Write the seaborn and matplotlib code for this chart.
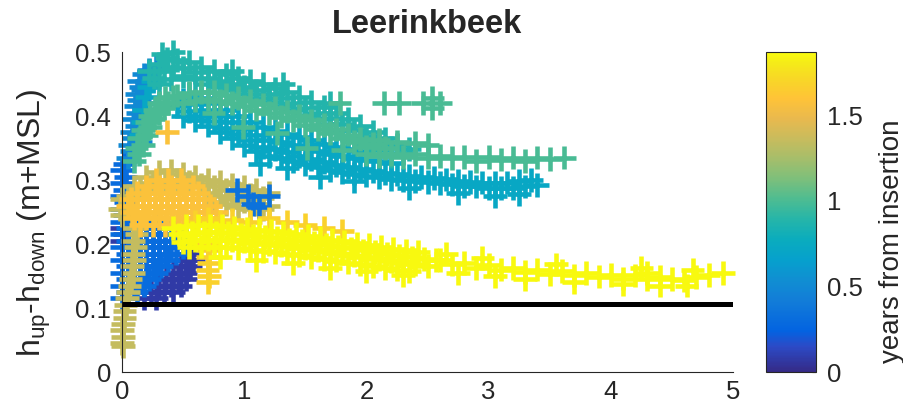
import numpy as np
import pandas as pd
import matplotlib
matplotlib.use("Agg")
import matplotlib.pyplot as plt
import seaborn as sns
from matplotlib.colors import LinearSegmentedColormap, Normalize
from matplotlib.cm import ScalarMappable

# =============================
# DATA
# =============================
# each group: x, y = h_up - h_down (m+MSL), one time value (years from insertion)
indigo_t = 0.08
indigo_x = [0.18, 0.28, 0.24, 0.34, 0.42, 0.30, 0.40, 0.48, 0.36, 0.46, 0.52,
            0.42, 0.52, 0.48, 0.56, 0.52, 0.58, 0.56, 0.00, 0.02, 0.00]
indigo_y = [0.115, 0.115, 0.125, 0.125, 0.125, 0.135, 0.135, 0.135, 0.145, 0.145, 0.145,
            0.155, 0.155, 0.165, 0.165, 0.175, 0.175, 0.185, 0.205, 0.215, 0.225]

blue_t = 0.30
blue_x = [0.00, 0.10, 0.20, 0.30,
          0.05, 0.15, 0.25, 0.35, 0.42,
          0.00, 0.10, 0.20, 0.30, 0.40, 0.48,
          0.05, 0.15, 0.25, 0.35, 0.45, 0.52,
          0.00, 0.10, 0.20, 0.30, 0.40, 0.50,
          0.05, 0.15, 0.25, 0.35, 0.44,
          0.00, 0.10, 0.20, 0.30, 0.38,
          0.05, 0.15, 0.25, 0.32,
          0.00, 0.10, 0.20, 0.28,
          0.05, 0.15, 0.22,
          0.00, 0.10, 0.18,
          0.05, 0.12,
          0.00,
          0.02, 0.00, 0.03, 0.00, 0.02, 0.00, 0.03, 0.00, 0.02]
blue_y = [0.235, 0.235, 0.235, 0.235,
          0.225, 0.225, 0.225, 0.225, 0.225,
          0.215, 0.215, 0.215, 0.215, 0.215, 0.215,
          0.205, 0.205, 0.205, 0.205, 0.205, 0.205,
          0.195, 0.195, 0.195, 0.195, 0.195, 0.195,
          0.185, 0.185, 0.185, 0.185, 0.185,
          0.175, 0.175, 0.175, 0.175, 0.175,
          0.165, 0.165, 0.165, 0.165,
          0.155, 0.155, 0.155, 0.155,
          0.145, 0.145, 0.145,
          0.135, 0.135, 0.135,
          0.125, 0.125,
          0.115,
          0.245, 0.255, 0.265, 0.275, 0.285, 0.295, 0.305, 0.315, 0.325]

midblue_t = 0.50
midblue_x = [0.05, 0.08, 0.06, 0.10, 0.08, 0.12, 0.10, 0.13, 0.11, 0.14, 0.12, 0.15,
             0.14, 0.18, 0.22, 0.28, 0.20, 0.17, 0.19, 0.17, 0.18, 0.15]
midblue_y = [0.335, 0.345, 0.355, 0.365, 0.375, 0.385, 0.395, 0.405, 0.415, 0.425, 0.435, 0.445,
             0.455, 0.465, 0.472, 0.478, 0.455, 0.44, 0.42, 0.40, 0.38, 0.36]

cyan_t = 0.72
cyan_x = [0.50, 0.60, 0.70, 0.80, 0.90, 1.00, 1.10, 1.20, 1.30, 1.40, 1.50, 1.60, 1.70, 1.80, 1.90,
          2.00, 2.10, 2.20, 2.30, 2.40, 2.50, 2.60, 2.70, 2.80, 2.90, 3.00, 3.10, 3.20, 3.30, 3.40,
          1.13, 1.35, 1.62, 1.90, 2.35, 2.75, 3.05, 3.25,
          0.45, 0.55, 0.65, 0.75, 0.85, 0.95, 1.05, 1.15, 1.25, 1.35, 1.45, 1.55, 1.65, 1.75, 1.85,
          1.95, 2.05, 2.15, 2.25, 2.35, 2.45, 2.55, 2.65, 2.75, 2.85, 2.95, 3.05, 3.15, 3.25, 3.35,
          0.50, 0.60, 0.70, 0.80, 0.90, 1.00, 1.10, 1.20, 1.30, 1.40, 1.50, 1.60, 1.70, 1.80, 1.90,
          2.00, 2.10, 2.20,
          0.55, 0.65, 0.75, 0.85, 0.95, 1.05, 1.15, 1.25, 1.35, 1.45, 1.55, 1.65, 1.75, 1.85, 1.95,
          0.15, 0.17, 0.18, 0.20, 0.22, 0.25]
cyan_y = [0.40, 0.393, 0.385, 0.375, 0.365, 0.355, 0.345, 0.338, 0.335, 0.33, 0.325, 0.32, 0.315, 0.312, 0.31,
          0.307, 0.305, 0.302, 0.30, 0.298, 0.297, 0.295, 0.293, 0.291, 0.29, 0.288, 0.287, 0.288, 0.29, 0.292,
          0.325, 0.318, 0.305, 0.298, 0.288, 0.28, 0.275, 0.278,
          0.415, 0.408, 0.40, 0.392, 0.382, 0.372, 0.362, 0.352, 0.348, 0.343, 0.338, 0.333, 0.328, 0.323, 0.32,
          0.317, 0.314, 0.311, 0.309, 0.307, 0.305, 0.303, 0.301, 0.299, 0.297, 0.296, 0.295, 0.296, 0.298, 0.30,
          0.425, 0.418, 0.41, 0.40, 0.39, 0.38, 0.37, 0.363, 0.36, 0.355, 0.35, 0.345, 0.34, 0.337, 0.335,
          0.332, 0.33, 0.327,
          0.435, 0.428, 0.42, 0.41, 0.40, 0.39, 0.383, 0.377, 0.372, 0.367, 0.362, 0.357, 0.352, 0.349, 0.345,
          0.37, 0.39, 0.41, 0.43, 0.445, 0.455]

teal_t = 0.88
teal_x = [0.22, 0.30, 0.37, 0.45, 0.55, 0.65, 0.75, 0.85, 0.95, 1.05, 1.15, 1.25, 1.35, 1.45, 1.55,
          1.65, 1.75, 1.85, 1.95, 2.05, 2.15, 2.25, 2.35,
          0.26, 0.34, 0.42, 0.50, 0.60, 0.70, 0.80, 0.90, 1.00, 1.10, 1.20, 1.30, 1.40, 1.50, 1.60,
          1.70, 1.80, 1.90, 2.00, 2.10, 2.20, 2.30,
          0.30, 0.40, 0.50, 0.60, 0.70, 0.80, 0.90, 1.00, 1.10, 1.20, 1.30, 1.40, 1.50, 1.60, 1.70,
          1.80, 1.90, 2.00, 2.10, 2.20,
          0.33, 0.42, 0.90, 1.32, 1.70]
teal_y = [0.47, 0.482, 0.49, 0.488, 0.485, 0.476, 0.47, 0.465, 0.46, 0.455, 0.45, 0.443, 0.437, 0.43, 0.422,
          0.414, 0.405, 0.395, 0.385, 0.375, 0.365, 0.355, 0.348,
          0.46, 0.47, 0.476, 0.475, 0.468, 0.46, 0.455, 0.45, 0.445, 0.44, 0.434, 0.428, 0.42, 0.412, 0.405,
          0.397, 0.388, 0.378, 0.368, 0.358, 0.35, 0.342,
          0.45, 0.458, 0.462, 0.458, 0.45, 0.445, 0.44, 0.435, 0.428, 0.422, 0.416, 0.41, 0.402, 0.395, 0.387,
          0.378, 0.368, 0.357, 0.347, 0.338,
          0.497, 0.50, 0.47, 0.45, 0.42]

green_t = 1.00
green_x = [0.10, 0.14, 0.12, 0.17, 0.14, 0.20, 0.17, 0.23, 0.20, 0.26, 0.23, 0.30, 0.27, 0.34, 0.30,
           0.38, 0.35, 0.42,
           0.45, 0.55, 0.65, 0.75, 0.85, 0.95, 1.05, 1.15, 1.25, 1.35, 1.45, 1.55, 1.65, 1.75, 1.85,
           1.95, 2.05, 2.15,
           0.50, 0.60, 0.70, 0.80, 0.90, 1.00, 1.10, 1.20, 1.30, 1.40, 1.50, 1.60, 1.70, 1.80, 1.90, 2.00,
           0.99, 1.27, 1.51, 1.81, 0.75,
           2.00, 2.10, 2.20, 2.30, 2.40, 2.50, 2.60, 2.70, 2.80, 2.90, 3.00, 3.10, 3.20, 3.30, 3.40,
           3.50, 3.62,
           2.10, 2.25, 2.40, 2.50,
           1.78, 2.14, 2.27, 2.46, 2.54, 2.54, 2.60]
green_y = [0.33, 0.34, 0.35, 0.355, 0.365, 0.37, 0.378, 0.383, 0.39, 0.395, 0.40, 0.405, 0.41, 0.413, 0.42,
           0.42, 0.428, 0.43,
           0.432, 0.436, 0.438, 0.437, 0.433, 0.428, 0.423, 0.418, 0.413, 0.407, 0.40, 0.393, 0.386, 0.379, 0.371,
           0.364, 0.356, 0.35,
           0.42, 0.424, 0.426, 0.424, 0.42, 0.415, 0.41, 0.405, 0.399, 0.393, 0.386, 0.38, 0.373, 0.366, 0.359, 0.352,
           0.383, 0.373, 0.35, 0.347, 0.405,
           0.34, 0.338, 0.34, 0.336, 0.34, 0.335, 0.338, 0.334, 0.336, 0.33, 0.336, 0.332, 0.335, 0.33, 0.335,
           0.333, 0.335,
           0.362, 0.36, 0.358, 0.355,
           0.42, 0.42, 0.42, 0.42, 0.412, 0.428, 0.42]

olive_t = 1.35
olive_x = [0.10, 0.12, 0.09, 0.11, 0.09, 0.10, 0.08, 0.09, 0.07, 0.06, 0.05, 0.04, 0.03, 0.02, 0.02,
           0.01, 0.00, 0.01, 0.00, 0.01,
           0.00, 0.10, 0.20, 0.30, 0.40, 0.50, 0.60, 0.70, 0.80, 0.90, 1.00, 1.10, 1.20,
           0.05, 0.15, 0.25, 0.35, 0.45, 0.55, 0.65, 0.75, 0.85, 0.95, 1.05, 1.15,
           0.70, 0.80, 0.90, 1.00, 1.10, 1.20,
           0.75, 0.85, 0.95, 1.05, 1.15,
           -0.02, 0.00]
olive_y = [0.225, 0.215, 0.205, 0.195, 0.185, 0.175, 0.165, 0.155, 0.145, 0.135, 0.125, 0.115, 0.105, 0.095, 0.085,
           0.075, 0.065, 0.055, 0.045, 0.04,
           0.27, 0.29, 0.305, 0.313, 0.315, 0.31, 0.305, 0.30, 0.297, 0.293, 0.29, 0.285, 0.28,
           0.275, 0.285, 0.295, 0.30, 0.30, 0.297, 0.293, 0.29, 0.285, 0.28, 0.277, 0.272,
           0.28, 0.275, 0.27, 0.267, 0.263, 0.26,
           0.265, 0.262, 0.258, 0.255, 0.255,
           0.255, 0.245]

stray_t = 0.35
stray_x = [0.94, 1.03, 1.07, 1.12, 1.20]
stray_y = [0.284, 0.275, 0.262, 0.258, 0.275]

orange_t = 1.58
orange_x = [0.28, 0.38, 0.48,
            0.20, 0.30, 0.40, 0.50, 0.58,
            0.12, 0.22, 0.32, 0.42, 0.52, 0.62,
            0.07, 0.17, 0.27, 0.37, 0.47, 0.57, 0.67,
            0.05, 0.12, 0.22, 0.32, 0.42, 0.52, 0.62, 0.72,
            0.08, 0.17, 0.27, 0.37, 0.47, 0.57, 0.67, 0.77,
            0.10, 0.20, 0.30, 0.40, 0.50, 0.60, 0.70,
            0.15, 0.25, 0.35, 0.45,
            0.37]
orange_y = [0.30, 0.30, 0.30,
            0.29, 0.29, 0.29, 0.29, 0.29,
            0.28, 0.28, 0.28, 0.28, 0.28, 0.28,
            0.27, 0.27, 0.27, 0.27, 0.27, 0.27, 0.27,
            0.26, 0.26, 0.26, 0.26, 0.26, 0.26, 0.26, 0.26,
            0.25, 0.25, 0.25, 0.25, 0.25, 0.25, 0.25, 0.25,
            0.24, 0.24, 0.24, 0.24, 0.24, 0.24, 0.24,
            0.23, 0.23, 0.23, 0.23,
            0.375]

gold_t = 1.68
gold_x = [0.70, 0.71, 0.70, 0.71, 0.70, 0.71, 0.70,
          0.60, 0.70, 0.80, 0.90, 1.05, 1.20, 1.35, 1.50, 1.65, 1.80]
gold_y = [0.14, 0.15, 0.16, 0.17, 0.18, 0.19, 0.20,
          0.235, 0.24, 0.235, 0.238, 0.235, 0.24, 0.235, 0.23, 0.225, 0.22]

yellow_t = 1.86
yellow_x = [0.42, 0.52, 0.62, 0.72, 0.82, 0.92, 1.02, 1.12, 1.22, 1.32, 1.42, 1.52, 1.62, 1.72, 1.82,
            1.92, 2.02, 2.12, 2.22, 2.32, 2.42,
            0.47, 0.57, 0.67, 0.77, 0.87, 0.97, 1.07, 1.17, 1.27, 1.37, 1.47, 1.57, 1.67, 1.77, 1.87,
            1.97, 2.07, 2.17, 2.27, 2.37, 2.47, 2.57,
            0.50, 0.60, 0.70, 0.80, 0.90, 1.00, 1.10, 1.20, 1.30, 1.40, 1.50, 1.60, 1.70, 1.80, 1.90,
            2.00, 2.10, 2.20, 2.30, 2.40, 2.50,
            0.55, 0.65, 0.75, 0.85, 0.95, 1.05, 1.15, 1.25, 1.35, 1.45, 1.55, 1.65, 1.75, 1.85, 1.95,
            2.05, 2.15, 2.25, 2.35,
            0.80, 1.10, 1.40, 1.70, 2.00, 2.30,
            2.60, 2.70, 2.80, 2.90, 3.00, 3.10, 3.20, 3.30, 3.40, 3.50, 3.60, 3.70, 3.80, 3.90, 4.00,
            4.10, 4.20, 4.30, 4.40, 4.50, 4.60, 4.70, 4.80, 4.92,
            2.75, 3.05, 3.30, 3.70, 4.10, 4.40, 4.62, 4.30,
            2.65, 2.95, 3.55, 4.67, 4.25]
yellow_y = [0.225, 0.228, 0.229, 0.229, 0.228, 0.226, 0.224, 0.222, 0.22, 0.218, 0.216, 0.213, 0.21, 0.207, 0.204,
            0.201, 0.198, 0.195, 0.192, 0.19, 0.187,
            0.215, 0.217, 0.218, 0.218, 0.217, 0.215, 0.213, 0.211, 0.209, 0.207, 0.205, 0.202, 0.199, 0.196, 0.193,
            0.19, 0.187, 0.184, 0.181, 0.179, 0.177, 0.175,
            0.203, 0.206, 0.207, 0.207, 0.206, 0.204, 0.202, 0.20, 0.198, 0.196, 0.194, 0.191, 0.188, 0.185, 0.182,
            0.179, 0.176, 0.173, 0.17, 0.168, 0.166,
            0.195, 0.196, 0.196, 0.195, 0.193, 0.191, 0.189, 0.187, 0.185, 0.183, 0.18, 0.177, 0.174, 0.171, 0.168,
            0.165, 0.162, 0.16, 0.158,
            0.18, 0.175, 0.17, 0.163, 0.158, 0.152,
            0.175, 0.168, 0.17, 0.163, 0.167, 0.16, 0.163, 0.156, 0.16, 0.153, 0.158, 0.151, 0.155, 0.149, 0.152,
            0.146, 0.151, 0.145, 0.149, 0.145, 0.143, 0.148, 0.152, 0.155,
            0.155, 0.15, 0.145, 0.14, 0.137, 0.135, 0.135, 0.155,
            0.185, 0.178, 0.168, 0.16, 0.162]

# threshold line
line_x = [0, 5]
line_y = [0.107, 0.107]

x_ticks = [0, 1, 2, 3, 4, 5]
y_ticks = [0, 0.1, 0.2, 0.3, 0.4, 0.5]
y_ticklabels = ["0", "0.1", "0.2", "0.3", "0.4", "0.5"]
cbar_ticks = [0, 0.5, 1, 1.5]
cbar_ticklabels = ["0", "0.5", "1", "1.5"]
t_max = 1.87

# drawing order = list order (later groups on top)
groups = [
    (indigo_x, indigo_y, indigo_t),
    (blue_x, blue_y, blue_t),
    (midblue_x, midblue_y, midblue_t),
    (cyan_x, cyan_y, cyan_t),
    (teal_x, teal_y, teal_t),
    (green_x, green_y, green_t),
    (olive_x, olive_y, olive_t),
    (stray_x, stray_y, stray_t),
    (orange_x, orange_y, orange_t),
    (gold_x, gold_y, gold_t),
    (yellow_x, yellow_y, yellow_t),
]
df = pd.concat([pd.DataFrame({"x": gx, "y": gy, "t": gt}) for gx, gy, gt in groups],
               ignore_index=True)

# =============================
# PARULA-LIKE COLORMAP (rows of the 64-entry table)
# =============================
parula_rows = [0, 5, 8, 14, 18, 22, 26, 30, 34, 38, 42, 46, 50, 54, 58, 61, 63]
parula_rgb = [
    (0.2081, 0.1663, 0.5292), (0.1707, 0.2919, 0.7792), (0.0117, 0.3875, 0.8820),
    (0.0722, 0.4887, 0.8467), (0.0641, 0.5570, 0.8240), (0.0239, 0.6287, 0.8038),
    (0.0384, 0.6743, 0.7436), (0.1453, 0.7098, 0.6646), (0.3022, 0.7376, 0.5712),
    (0.4871, 0.7491, 0.4840), (0.6473, 0.7456, 0.4188), (0.7858, 0.7356, 0.3633),
    (0.9139, 0.7258, 0.3063), (0.9990, 0.7653, 0.2164), (0.9698, 0.8481, 0.1475),
    (0.9598, 0.9218, 0.0948), (0.9763, 0.9831, 0.0538)]
parula = LinearSegmentedColormap.from_list(
    "parula", [(r / 63, c) for r, c in zip(parula_rows, parula_rgb)])

# =============================
# PLOT
# =============================
sns.set_style("white")
plt.rcParams["font.family"] = ["Liberation Sans", "DejaVu Sans"]
plt.rcParams["mathtext.fontset"] = "custom"
plt.rcParams["mathtext.rm"] = "Liberation Sans"
plt.rcParams["mathtext.it"] = "Liberation Sans"
dark = (0.15, 0.15, 0.15)

fig = plt.figure(figsize=(9.04, 4.16), dpi=100)
ax = fig.add_axes([122 / 904, 44 / 416, 611 / 904, 320 / 416])
cax = fig.add_axes([766 / 904, 44 / 416, 50 / 904, 320 / 416])

sns.scatterplot(data=df, x="x", y="y", hue="t", palette=parula, hue_norm=(0, t_max),
                marker="+", s=290, linewidth=3.3, legend=False, ax=ax)
for coll in ax.collections:
    coll.set_clip_on(False)

ax.plot(line_x, line_y, color="k", lw=3.6, solid_capstyle="butt", zorder=5)

ax.set_xlim(0, 5)
ax.set_ylim(0, 0.5)
ax.set_xticks(x_ticks)
ax.set_xticklabels([str(v) for v in x_ticks])
ax.set_yticks(y_ticks)
ax.set_yticklabels(y_ticklabels)
sns.despine(ax=ax)
for side in ["left", "bottom"]:
    ax.spines[side].set_color(dark)
    ax.spines[side].set_linewidth(0.8)
ax.tick_params(direction="in", length=5, width=0.8, color=dark, labelcolor=dark,
               labelsize=18.5)
ax.tick_params(axis="x", pad=6)
ax.tick_params(axis="y", pad=8)
ax.set_xlabel("")
ax.set_ylabel(r"h$_{\mathrm{up}}$-h$_{\mathrm{down}}$ (m+MSL)", fontsize=23, color=dark)
ax.yaxis.set_label_coords(-0.113, 0.465)
ax.set_title("Leerinkbeek", fontsize=23.5, fontweight="bold", pad=14)

sm = ScalarMappable(norm=Normalize(0, t_max), cmap=parula)
cb = fig.colorbar(sm, cax=cax)
cb.set_ticks(cbar_ticks)
cb.set_ticklabels(cbar_ticklabels)
cb.outline.set_edgecolor(dark)
cb.outline.set_linewidth(0.8)
cax.tick_params(direction="in", length=3, width=0.8, color=dark, labelcolor=dark,
                labelsize=18.5, pad=8)
cb.set_label("years from insertion", fontsize=20, color=dark)
cax.yaxis.set_label_coords(2.25, 0.41)

fig.savefig("out.png", dpi=100)
